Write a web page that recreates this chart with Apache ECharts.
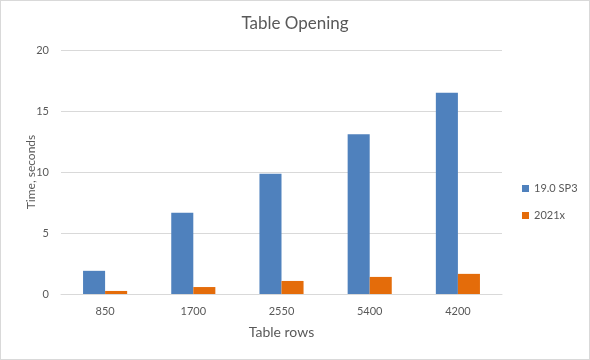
<!DOCTYPE html>
<html><head><meta charset="utf-8">
<script src="https://cdn.jsdelivr.net/npm/echarts@6/dist/echarts.min.js"></script>
<style>html,body{margin:0;padding:0;background:#fff}#c{width:588px;height:358px;border:1px solid #d9d9d9}</style>
</head><body><div id="c"></div>
<script>
const categories = ['850','1700','2550','5400','4200'];
const seriesNames = ['19.0 SP3','2021x'];
const sp3Values = [1.9, 6.65, 9.85, 13.1, 16.5];
const x2021Values = [0.25, 0.57, 1.07, 1.4, 1.65];
const yTicks = {min:0, max:20, interval:5};
const chart = echarts.init(document.getElementById('c'));
const font = 'Lato, "Open Sans", sans-serif';
chart.setOption({
  animation:false,
  textStyle:{fontFamily:font},
  title:{text:'Table Opening', left:'center', top:9, textStyle:{fontFamily:font, fontSize:17, fontWeight:'normal', color:'#595959'}},
  legend:{orient:'vertical', left:516, top:177, itemWidth:7, itemHeight:7, itemGap:16, icon:'rect',
    textStyle:{fontFamily:font, fontSize:11, color:'#595959'}, data:seriesNames},
  grid:{left:60, right:87, top:49, bottom:65, containLabel:false},
  xAxis:{type:'category', data:categories, name:'Table rows', nameLocation:'middle', nameGap:31,
    nameTextStyle:{fontFamily:font, fontSize:14, color:'#595959'},
    axisLine:{lineStyle:{color:'#d9d9d9'}}, axisTick:{show:false},
    axisLabel:{fontFamily:font, fontSize:11, color:'#595959', margin:12}},
  yAxis:{type:'value', min:yTicks.min, max:yTicks.max, interval:yTicks.interval,
    name:'Time, seconds', nameLocation:'middle', nameGap:24, nameRotate:90, nameMoveOverlap:false,
    nameTextStyle:{fontFamily:font, fontSize:12, color:'#595959'},
    axisLine:{show:false}, axisTick:{show:false},
    axisLabel:{fontFamily:font, fontSize:11, color:'#595959', margin:12},
    splitLine:{lineStyle:{color:'#d9d9d9'}}},
  series:[
    {name:seriesNames[0], type:'bar', data:sp3Values, barGap:'0%', barCategoryGap:'50%', itemStyle:{color:'#4f81bd'}},
    {name:seriesNames[1], type:'bar', data:x2021Values, barGap:'0%', barCategoryGap:'50%', itemStyle:{color:'#e46c0a'}}
  ]
});
</script></body></html>
